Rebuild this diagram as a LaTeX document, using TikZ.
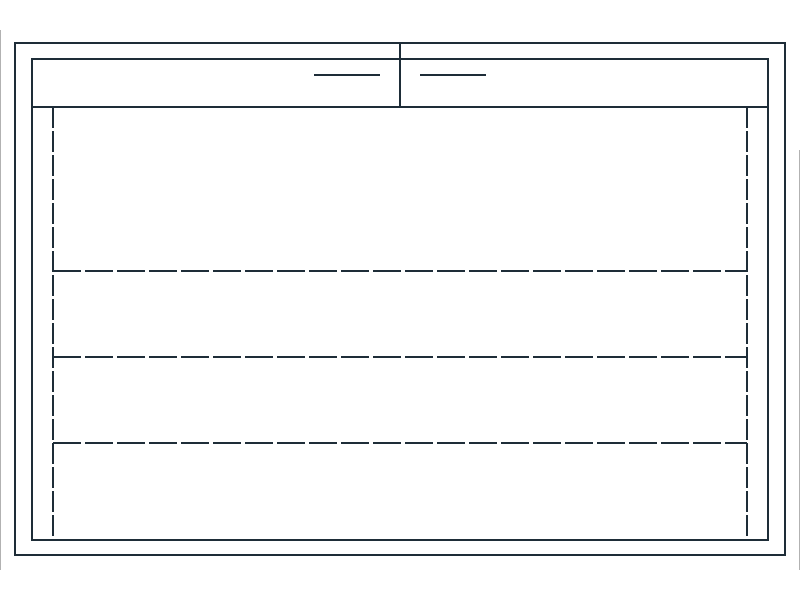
\documentclass[tikz,border=0pt]{standalone}
\usepackage{tikz}
\definecolor{planline}{HTML}{1E2D38}

\begin{document}
\begin{tikzpicture}[x=1pt, y=-1pt, line width=1.5pt, draw=planline]
\tikzset{
  wall/.style={draw=planline, line width=1.5pt},
  rowline/.style={draw=planline, line width=1.5pt, dash pattern=on 28pt off 4pt},
  sideline/.style={draw=planline, line width=1.5pt, dash pattern=on 21pt off 3pt}
}
\useasboundingbox (0,0) rectangle (800,600);

% Page edges
\draw[gray!60, line width=1pt] (0.5,30) -- (0.5,570);
\draw[gray!60, line width=1pt] (799.5,150) -- (799.5,570);

% Frames
\draw[wall] (15,43) rectangle (785,555);
\draw[wall] (32,59) rectangle (768,540);

% Header
\draw[wall] (32,107) -- (768,107);
\draw[wall] (400,43) -- (400,107);
\draw[wall] (314,75) -- (380,75);
\draw[wall] (420,75) -- (486,75);

% Side margins
\draw[sideline] (53,107) -- (53,540);
\draw[sideline] (747,107) -- (747,540);

% Rows
\foreach \y in {271,357,443}
  \draw[rowline] (53,\y) -- (747,\y);
\end{tikzpicture}
\end{document}
